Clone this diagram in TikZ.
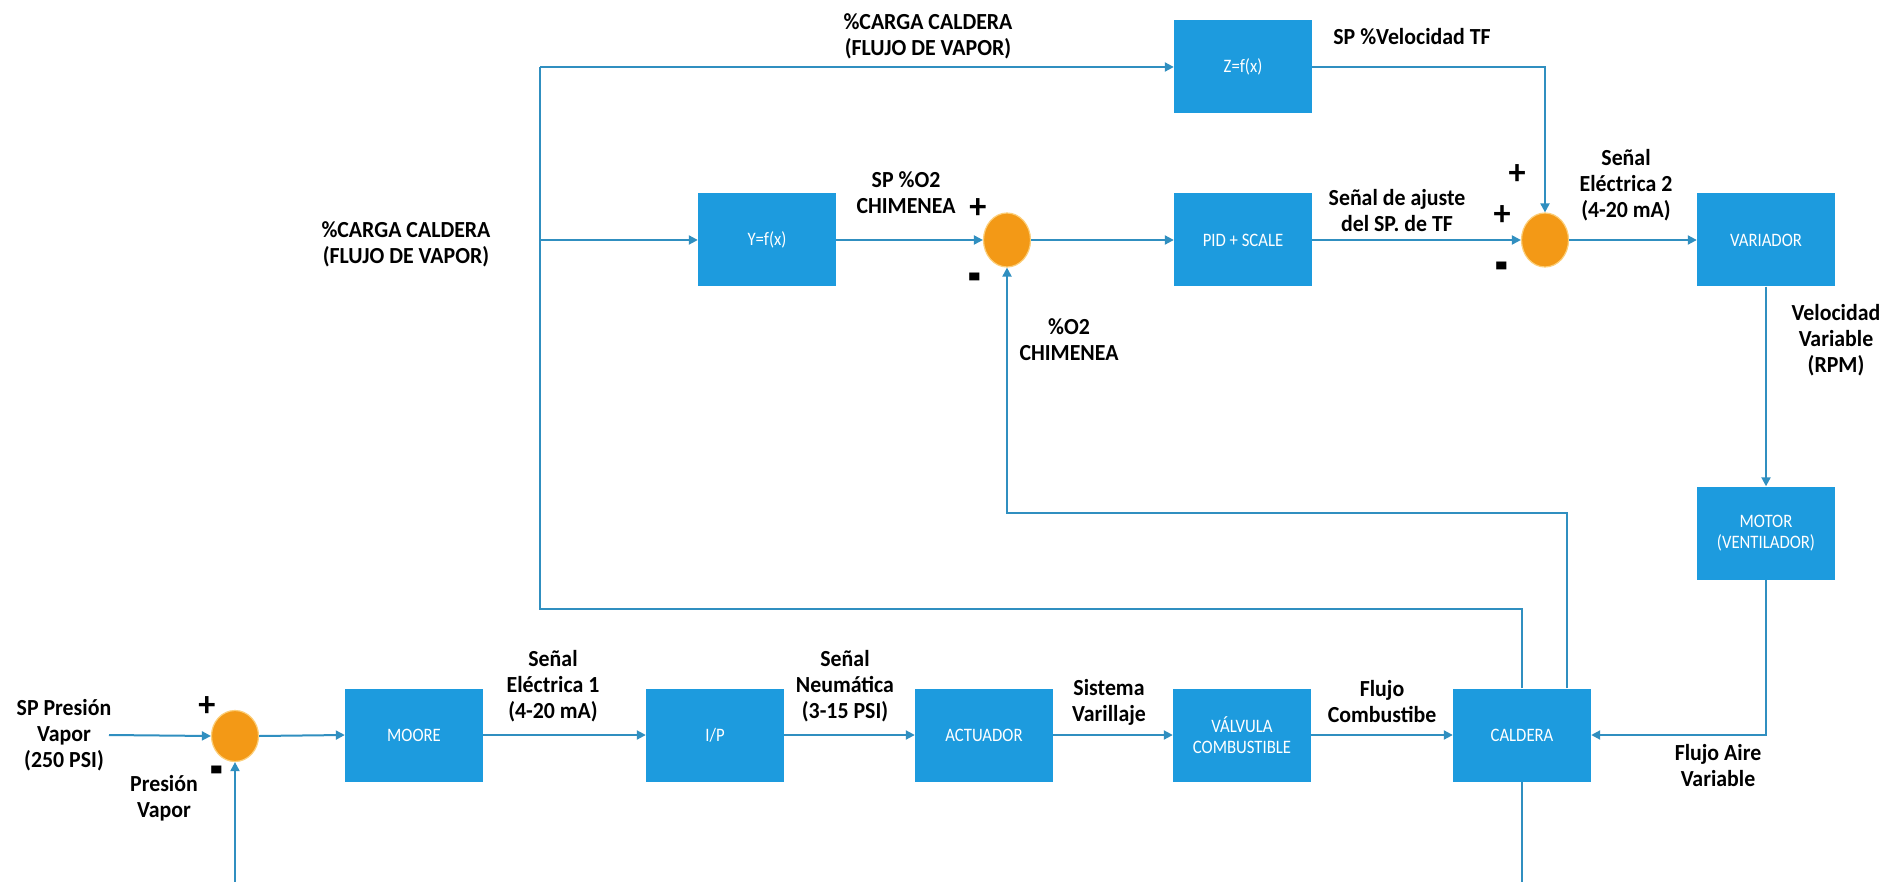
\documentclass[tikz,border=0pt]{standalone}
\usepackage{fontspec}
\usetikzlibrary{arrows.meta,shapes.geometric,calc}
\newfontfamily\labfont[FakeStretch=0.95]{Carlito}
\newfontfamily\boxfont[FakeStretch=0.88]{Carlito}
\definecolor{boxblue}{RGB}{29,155,222}
\definecolor{wire}{RGB}{48,143,192}
\definecolor{sumorange}{RGB}{243,153,22}
\definecolor{sumrim}{RGB}{252,206,120}
\newcommand{\minussign}{\scalebox{1.2}[2.1]{-}}
\tikzset{
  blk/.style={rectangle, fill=boxblue, minimum width=138pt, minimum height=93pt,
    inner sep=0pt, text=white, font=\boxfont\fontsize{19}{21}\selectfont, align=center},
  sumpt/.style={ellipse, fill=sumorange, draw=sumrim, line width=1.2pt,
    minimum width=47pt, minimum height=54pt, inner sep=0pt},
  lbl/.style={font=\labfont\bfseries\fontsize{23}{26}\selectfont, align=center, inner sep=0pt},
  sgn/.style={font=\labfont\bfseries\fontsize{36}{36}\selectfont, inner sep=0pt},
  wireln/.style={draw=wire, line width=2pt},
  sig/.style={wireln, -{Triangle[length=9pt,width=9pt]}},
}
\begin{document}
\begin{tikzpicture}[x=1pt,y=-1pt]
\useasboundingbox[fill=white] (0,0) rectangle (1900,882);

% blocks
\node[blk] (yfx)   at (767,240)  {Y=f(x)};
\node[blk] (zfx)   at (1243,67)  {Z=f(x)};
\node[blk] (pid)   at (1243,240) {PID + SCALE};
\node[blk] (var)   at (1766,240) {VARIADOR};
\node[blk] (motor) at (1766,533) {MOTOR\\(VENTILADOR)};
\node[blk] (moore) at (414,735)  {MOORE};
\node[blk] (ip)    at (715,735)  {I/P};
\node[blk] (act)   at (984,735)  {ACTUADOR};
\node[blk] (valv)  at (1242,735) {VÁLVULA\\COMBUSTIBLE};
\node[blk] (cald)  at (1522,735) {CALDERA};

% summing points
\node[sumpt, minimum height=51pt] (s1) at (235,736) {};
\node[sumpt] (s2) at (1007,240) {};
\node[sumpt] (s3) at (1545,240) {};

% signs
\node[sgn] (s1p) at (207,707) {+};
\node[sgn] (s1m) at (217,779) {\minussign};
\node[sgn] (s2p) at (978,209) {+};
\node[sgn] (s2m) at (975,286) {\minussign};
\node[sgn] (s3pa) at (1517,175) {+};
\node[sgn] (s3pb) at (1502,216) {+};
\node[sgn] (s3m) at (1502,275) {\minussign};

% labels
\node[lbl] (tsp)   at (64,735)   {SP Presión\\Vapor\\(250 PSI)};
\node[lbl] (tpv)   at (164,798)  {Presión\\Vapor};
\node[lbl] (te1)   at (553,686)  {Señal\\Eléctrica 1\\(4-20 mA)};
\node[lbl] (tneu)  at (845,686)  {Señal\\Neumática\\(3-15 PSI)};
\node[lbl] (tsv)   at (1109,702) {Sistema\\Varillaje};
\node[lbl] (tfc)   at (1382,702) {Flujo\\Combustibe};
\node[lbl] (tfa)   at (1718,766) {Flujo Aire\\Variable};
\node[lbl] (tvel)  at (1836,340) {Velocidad\\Variable\\(RPM)};
\node[lbl] (to2)   at (1069,340) {\%O2\\CHIMENEA};
\node[lbl] (te2)   at (1626,185) {Señal\\Eléctrica 2\\(4-20 mA)};
\node[lbl] (taj)   at (1397,211) {Señal de ajuste\\del SP. de TF};
\node[lbl] (tspo2) at (906,193)  {SP \%O2\\CHIMENEA};
\node[lbl] (tspv)  at (1412,37)  {SP \%Velocidad TF};
\node[lbl] (tcgt)  at (928,36)   {\%CARGA CALDERA\\(FLUJO DE VAPOR)};
\node[lbl] (tcgl)  at (406,244)  {\%CARGA CALDERA\\(FLUJO DE VAPOR)};

% junction and corner points
\coordinate (jtop) at (540,67);
\coordinate (jmid) at (540,240);
\coordinate (jbot) at (540,609);
\coordinate (cbot) at (1522,609);
\coordinate (co2a) at (1567,513);
\coordinate (co2b) at (1007,513);
\coordinate (zcor) at (1545,67);
\coordinate (mcor) at (1766,735);
\coordinate (spin) at (109,735);
\coordinate (fbin) at (235,882);
\coordinate (cout) at (1522,882);

% main loop
\draw[sig] (spin) -- (s1.west);
\draw[sig] (s1.east) -- (moore.west);
\draw[sig] (moore.east) -- (ip.west);
\draw[sig] (ip.east) -- (act.west);
\draw[sig] (act.east) -- (valv.west);
\draw[sig] (valv.east) -- (cald.west);
\draw[wireln] (cald.south) -- (cout);
\draw[sig] (fbin) -- (s1.south);

% boiler load feed-forward
\draw[wireln] (cald.north) -- (cbot) -- (jbot) -- (jtop);
\draw[sig] (jtop) -- (zfx.west);
\draw[sig] (jmid) -- (yfx.west);

% O2 trim
\draw[sig] (yfx.east) -- (s2.west);
\draw[sig] (s2.east) -- (pid.west);
\draw[sig] (pid.east) -- (s3.west);
\draw[sig] (co2a |- cald.north) -- (co2a) -- (co2b) -- (s2.south);

% fan speed
\draw[sig] (zfx.east) -- (zcor) -- (s3.north);
\draw[sig] (s3.east) -- (var.west);
\draw[sig] (var.south) -- (motor.north);
\draw[sig] (motor.south) -- (mcor) -- (cald.east);
\end{tikzpicture}
\end{document}
